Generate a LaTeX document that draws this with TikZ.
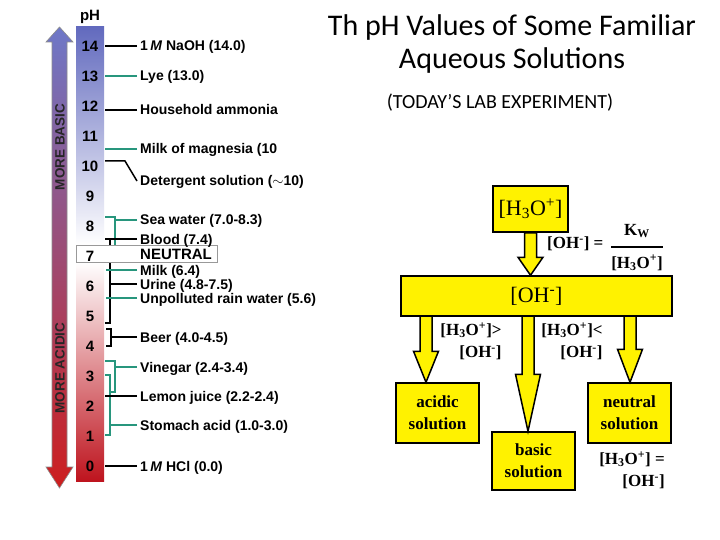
\documentclass[tikz,border=0pt]{standalone}
\usepackage{fontspec}
\setmainfont{Liberation Serif}
\newfontfamily\helv{Liberation Sans}
\newfontfamily\calib{Carlito}
\usetikzlibrary{calc}
\definecolor{phblue}{RGB}{98,106,190}
\definecolor{phred}{RGB}{190,20,30}
\definecolor{arblue}{RGB}{110,120,200}
\definecolor{arred}{RGB}{205,30,30}
\definecolor{tealline}{RGB}{40,150,125}
\newcommand{\hthree}{[H\textsubscript{3}O\textsuperscript{+}]}
\newcommand{\ohm}{[OH\textsuperscript{-}]}
\newcommand{\blockarrow}[3]{%
\draw[yarr] let \p1=(#1), \p2=(#2) in (\x1-6pt,\y1) -- (\x1-6pt,\y2+#3) -- (\x1-12.5pt,\y2+#3) -- (\x1,\y2) -- (\x1+12.5pt,\y2+#3) -- (\x1+6pt,\y2+#3) -- (\x1+6pt,\y1) -- cycle;}

\begin{document}
\begin{tikzpicture}[x=1pt,y=-1pt]
\tikzstyle{every node}+=[inner sep=0pt]
\tikzstyle{lbl}=[anchor=west,inner xsep=3pt,font=\helv\bfseries\fontsize{14}{16}\selectfont,text height=10pt,text depth=0pt]
\tikzstyle{num}=[font=\helv\bfseries\fontsize{15}{17}\selectfont]
\tikzstyle{side}=[font=\helv\bfseries\fontsize{13.5}{16}\selectfont,rotate=90,text=black!85]
\tikzstyle{blk}=[black,line width=1.5pt]
\tikzstyle{grn}=[tealline,line width=1.5pt]
\tikzstyle{ybox}=[draw=black,fill=yellow,line width=1.5pt]
\tikzstyle{yarr}=[draw=black,fill=yellow,line width=1.5pt,line join=miter]
\tikzstyle{bold}=[font=\bfseries\fontsize{17}{22}\selectfont]
\fill[white] (0,0) rectangle (720,540);
\useasboundingbox (0,0) rectangle (720,540);

\shade[top color=arblue,middle color=white,bottom color=arred,draw=black!45,line width=0.6pt]
  (59.5,27) -- (73,42) -- (67,42) -- (67,467) -- (73,467) -- (59.5,488) -- (46,467) -- (52,467) -- (52,42) -- (46,42) -- cycle;
\node[side] (basic-side) at (60,147) {MORE BASIC};
\node[side] (acid-side) at (60,368) {MORE ACIDIC};

\shade[top color=phblue,bottom color=white] (76,27) rectangle (104,245);
\shade[top color=white,bottom color=phred] (76,262) rectangle (104,481);
\node[num] (ph) at (90,17) {pH};

\draw[grn] (105,217) -- (115,217) -- (115,246);
\draw[blk] (105,239) -- (110,239) -- (110,323) -- (105,323);
\draw[blk] (106,329) -- (111,329) -- (111,346) -- (106,346);
\draw[grn] (105,361) -- (115,361) -- (115,392) -- (110,392);
\draw[grn] (105,375) -- (110,375) -- (110,435) -- (105,435);

\draw[black!40,fill=white,line width=0.8pt] (76,245) rectangle (217,262);
\foreach \i in {0,...,14}
  \node[num] (n\i) at (90,466-30*\i) {\i};

\node[lbl] (naoh) at (137,46) {1\,\textit{M} NaOH (14.0)};
\node[lbl] (lye) at (137,76) {Lye (13.0)};
\node[lbl] (ammonia) at (137,110) {Household ammonia};
\node[lbl] (magnesia) at (137,149) {Milk of magnesia (10};
\node[lbl] (deter) at (137,181) {Detergent solution ($\sim$10)};
\node[lbl] (sea) at (137,220) {Sea water (7.0-8.3)};
\node[lbl] (blood) at (137,239) {Blood (7.4)};
\node[lbl,font=\helv\bfseries\fontsize{15}{17}\selectfont] (neutral) at (137,254) {NEUTRAL};
\node[lbl] (milk) at (137,270) {Milk (6.4)};
\node[lbl] (urine) at (137,284) {Urine (4.8-7.5)};
\node[lbl] (rain) at (137,298) {Unpolluted rain water (5.6)};
\node[lbl] (beer) at (137,337) {Beer (4.0-4.5)};
\node[lbl] (vinegar) at (137,367) {Vinegar (2.4-3.4)};
\node[lbl] (lemon) at (137,396) {Lemon juice (2.2-2.4)};
\node[lbl] (stomach) at (137,425) {Stomach acid (1.0-3.0)};
\node[lbl] (hcl) at (137,466) {1\,\textit{M} HCl (0.0)};

\draw[blk] (naoh.west) -- ++(-32,0);
\draw[grn] (lye.west) -- ++(-32,0);
\draw[blk] (ammonia.west) -- ++(-32,0);
\draw[grn] (magnesia.west) -- ++(-32,0);
\draw[blk] (deter.west) -- ++(-12,-20) -- ++(-20,0);
\draw[grn] (sea.west) -- ++(-22,0);
\draw[blk] (blood.west) -- ++(-32,0);
\draw[grn] (milk.west) -- ++(-31,0);
\draw[blk] (urine.west) -- ++(-27,0);
\draw[grn] (rain.west) -- ++(-31,0);
\draw[blk] (beer.west) -- ++(-26,0);
\draw[grn] (vinegar.west) -- ++(-22,0);
\draw[blk] (lemon.west) -- ++(-32,0);
\draw[grn] (stomach.west) -- ++(-27,0);
\draw[blk] (hcl.west) -- ++(-32,0);

\node[font=\calib\fontsize{30}{33}\selectfont,align=center] (title) at (512,44) {Th pH Values of Some Familiar\\Aqueous Solutions};
\node[font=\calib\fontsize{20}{24}\selectfont] (sub) at (500,103) {(TODAY’S LAB EXPERIMENT)};

\node[ybox,minimum width=75pt,minimum height=46pt,font=\fontsize{22}{26}\selectfont] (h3o) at (530.5,209) {\hthree};
\node[ybox,minimum width=271pt,minimum height=40pt,font=\fontsize{22}{26}\selectfont] (oh) at (536.5,296) {\ohm};
\node[ybox,bold,align=center,minimum width=83pt,minimum height=60pt] (acid) at (437.5,413) {acidic\\solution};
\node[ybox,bold,align=center,minimum width=83pt,minimum height=60pt] (neut) at (629.5,413) {neutral\\solution};
\node[ybox,bold,align=center,minimum width=83pt,minimum height=58pt] (basic) at (533.5,461) {basic\\solution};

\coordinate (sa) at (426,316);
\coordinate (sb) at (528,316);
\coordinate (sc) at (630,316);
\blockarrow{h3o.south}{oh.north}{18pt}
\blockarrow{sa}{acid.north}{31pt}
\blockarrow{sb}{basic.north}{57pt}
\blockarrow{sc}{neut.north}{33pt}

\node[bold,anchor=west] (ohdef) at (547,244) {\ohm{} =};
\node[bold] (kw) at (637,231) {K\textsubscript{W}};
\node[bold] (kden) at (637,263) {\hthree};
\draw[line width=1.5pt] ($(kden.west)+(0,-16)$) -- ($(kden.east)+(0,-16)$);
\node[bold,align=right] (gt) at (471,341) {\hthree>\\\ohm};
\node[bold,align=right] (lt) at (572,341) {\hthree<\\\ohm};
\node[bold,align=right] (eq) at (632,470) {\hthree{} =\\\ohm};
\end{tikzpicture}
\end{document}
